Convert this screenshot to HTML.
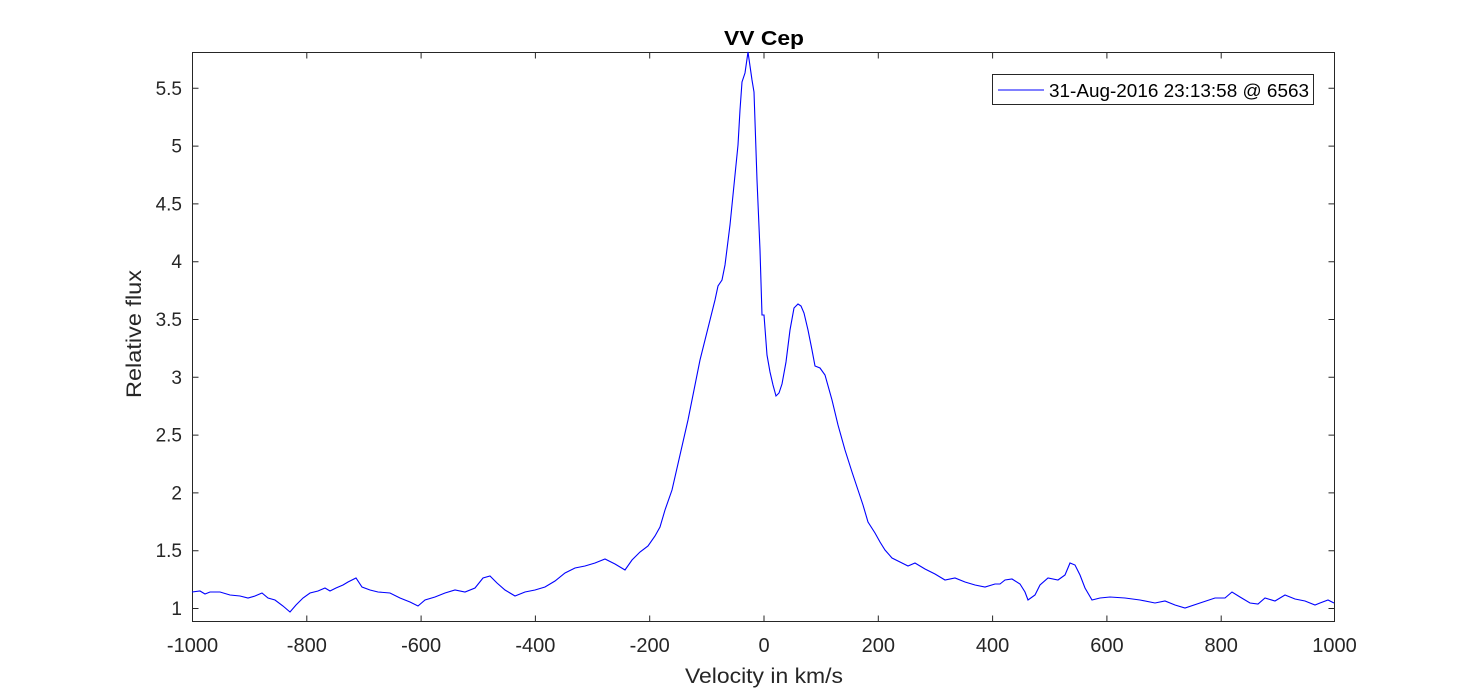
<!DOCTYPE html>
<html><head><meta charset="utf-8"><style>body{margin:0;background:#fff}svg{display:block}</style></head>
<body>
<svg width="1475" height="698" xmlns="http://www.w3.org/2000/svg" font-family="Liberation Sans, Arial, sans-serif">
<rect width="1475" height="698" fill="#fff"/>
<g stroke="#262626" stroke-width="1" fill="none">
<rect x="192.5" y="52.5" width="1142" height="569"/>
<path d="M192.5 52.5v6M306.8 52.5v6M421.1 52.5v6M535.4 52.5v6M649.7 52.5v6M764 52.5v6M878.3 52.5v6M992.6 52.5v6M1106.9 52.5v6M1221.2 52.5v6
M192.5 621.5v-6M306.8 621.5v-6M421.1 621.5v-6M535.4 621.5v-6M649.7 621.5v-6M764 621.5v-6M878.3 621.5v-6M992.6 621.5v-6M1106.9 621.5v-6M1221.2 621.5v-6M1334.5 621.5v-6"/>
<path d="M192.5 608.5h6M192.5 550.7h6M192.5 492.9h6M192.5 435.1h6M192.5 377.3h6M192.5 319.5h6M192.5 261.7h6M192.5 203.9h6M192.5 146.1h6M192.5 88.3h6
M1334.5 608.5h-6M1334.5 550.7h-6M1334.5 492.9h-6M1334.5 435.1h-6M1334.5 377.3h-6M1334.5 319.5h-6M1334.5 261.7h-6M1334.5 203.9h-6M1334.5 146.1h-6M1334.5 88.3h-6"/>
</g>
<g font-size="19" fill="#262626" text-anchor="end">
<text x="182" y="615">1</text><text x="182" y="557.2">1.5</text><text x="182" y="499.4">2</text><text x="182" y="441.6">2.5</text><text x="182" y="383.8">3</text><text x="182" y="326">3.5</text><text x="182" y="268.2">4</text><text x="182" y="210.4">4.5</text><text x="182" y="152.6">5</text><text x="182" y="94.8">5.5</text>
</g>
<g font-size="20" fill="#262626" text-anchor="middle">
<text x="192.5" y="652">-1000</text><text x="306.8" y="652">-800</text><text x="421.1" y="652">-600</text><text x="535.4" y="652">-400</text><text x="649.7" y="652">-200</text><text x="764" y="652">0</text><text x="878.3" y="652">200</text><text x="992.6" y="652">400</text><text x="1106.9" y="652">600</text><text x="1221.2" y="652">800</text><text x="1334.5" y="652">1000</text>
</g>
<g fill="#262626">
<text x="685" y="683" font-size="21" textLength="158" lengthAdjust="spacingAndGlyphs">Velocity in km/s</text>
<text x="724" y="45" font-size="20" font-weight="bold" fill="#000" textLength="80" lengthAdjust="spacingAndGlyphs">VV Cep</text>
<text transform="translate(141 398) rotate(-90)" font-size="21" textLength="128" lengthAdjust="spacingAndGlyphs">Relative flux</text>
</g>
<polyline fill="none" stroke="#0000ff" stroke-width="1.1" points="192,592 200,591 205,594 210,592 220,592 230,595 240,596 248,598 255,596 262,593 268,598 275,600 283,606 290,612 296,605 303,598 310,593 318,591 325,588 330,591 336,588 343,585 348,582 356,578 362,587 370,590 378,592 390,593 400,598 410,602 418,606 425,600 435,597 445,593 455,590 465,592 475,588 483,578 490,576 497,583 505,590 515,596 525,592 535,590 545,587 555,581 565,573 575,568 585,566 595,563 605,559 615,564 625,570 632,560 640,552 648,546 655,536 660,527 665,510 672,490 680,455 688,420 695,385 700,360 705,340 710,320 715,300 718,286 722,280 725,265 730,225 735,175 738,145 740,110 742,82 745,73 748,52 752,80 754,92 757,180 760,250 762,315 764,315 767,355 770,372 773,385 776,396 779,393 782,384 786,362 790,330 794,308 798,304 801,306 804,313 808,330 812,350 815,366 820,368 825,375 832,400 838,425 845,450 852,472 858,490 863,505 868,522 875,533 880,542 885,550 892,558 900,562 908,566 915,563 925,569 935,574 945,580 955,578 965,582 975,585 985,587 995,584 1000,584 1005,580 1012,579 1020,584 1025,592 1028,600 1035,595 1040,585 1048,578 1058,580 1065,575 1070,563 1075,565 1080,575 1085,588 1092,600 1100,598 1110,597 1125,598 1140,600 1155,603 1165,601 1175,605 1185,608 1200,603 1215,598 1225,598 1232,592 1240,597 1250,603 1258,604 1265,598 1275,601 1285,595 1295,599 1305,601 1315,605 1320,603 1328,600 1334,603"/>
<rect x="992.5" y="74.5" width="321" height="30" fill="#fff" stroke="#262626"/>
<line x1="998" y1="90" x2="1044" y2="90" stroke="#0000ff" stroke-width="1"/>
<text x="1049" y="97" font-size="18" fill="#000" textLength="260" lengthAdjust="spacingAndGlyphs">31-Aug-2016 23:13:58 @ 6563</text>
</svg>
</body></html>
